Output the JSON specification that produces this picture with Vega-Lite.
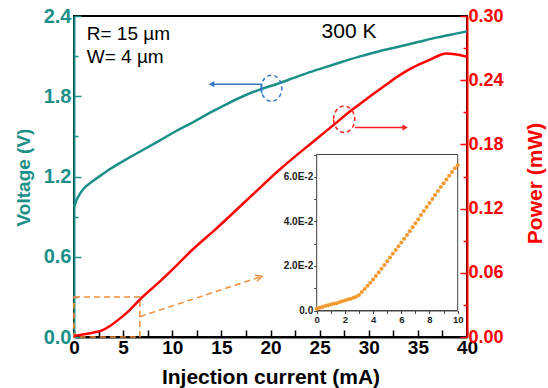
{
  "$schema": "https://vega.github.io/schema/vega-lite/v6.json",
  "width": 393,
  "height": 321,
  "autosize": {"type": "none"},
  "padding": {"left": 74, "top": 16, "right": 81, "bottom": 51},
  "background": "white",
  "config": {
    "view": {"stroke": "black", "strokeWidth": 2},
    "font": "Liberation Sans",
    "axis": {"grid": false, "zindex": 1, "labelFont": "Liberation Sans", "titleFont": "Liberation Sans", "labelFlush": false}
  },
  "datasets": {
    "voltage": [
      {"I": 0, "V": 0.97}, {"I": 0.3, "V": 1.03}, {"I": 0.6, "V": 1.07}, {"I": 1.0, "V": 1.11},
      {"I": 2.0, "V": 1.17}, {"I": 3.0, "V": 1.222}, {"I": 3.66, "V": 1.256}, {"I": 5.36, "V": 1.33},
      {"I": 7.05, "V": 1.40}, {"I": 8.75, "V": 1.47}, {"I": 10.4, "V": 1.54}, {"I": 12.1, "V": 1.605},
      {"I": 13.8, "V": 1.675}, {"I": 15.5, "V": 1.74}, {"I": 17.2, "V": 1.80}, {"I": 18.9, "V": 1.85},
      {"I": 20.6, "V": 1.89}, {"I": 22.3, "V": 1.935}, {"I": 24.0, "V": 1.98}, {"I": 25.7, "V": 2.02},
      {"I": 27.4, "V": 2.06}, {"I": 29.2, "V": 2.10}, {"I": 31.0, "V": 2.135}, {"I": 33.0, "V": 2.17},
      {"I": 35.0, "V": 2.205}, {"I": 37.0, "V": 2.24}, {"I": 39.0, "V": 2.27}, {"I": 40.0, "V": 2.285}
    ],
    "power": [
      {"I": 0, "P": 0.001}, {"I": 1.0, "P": 0.0025}, {"I": 2.0, "P": 0.0042}, {"I": 2.8, "P": 0.006},
      {"I": 3.66, "P": 0.0103}, {"I": 4.5, "P": 0.016}, {"I": 5.36, "P": 0.0225}, {"I": 6.7, "P": 0.035},
      {"I": 8.75, "P": 0.052}, {"I": 10.45, "P": 0.067}, {"I": 12.1, "P": 0.082}, {"I": 14.2, "P": 0.099},
      {"I": 17.6, "P": 0.128}, {"I": 21.0, "P": 0.157}, {"I": 24.4, "P": 0.183}, {"I": 26.0, "P": 0.195},
      {"I": 28.4, "P": 0.213}, {"I": 30.0, "P": 0.224}, {"I": 31.8, "P": 0.236}, {"I": 33.2, "P": 0.245},
      {"I": 34.5, "P": 0.252}, {"I": 36.2, "P": 0.259}, {"I": 37.9, "P": 0.265}, {"I": 38.9, "P": 0.264},
      {"I": 40.0, "P": 0.262}
    ],
    "inset": [
      {"I": 0.0, "P": 0.0008}, {"I": 0.2, "P": 0.0012}, {"I": 0.4, "P": 0.0016}, {"I": 0.6, "P": 0.0020},
      {"I": 0.8, "P": 0.0023}, {"I": 1.0, "P": 0.0027}, {"I": 1.2, "P": 0.0030}, {"I": 1.4, "P": 0.0033},
      {"I": 1.6, "P": 0.0037}, {"I": 1.8, "P": 0.0041}, {"I": 2.0, "P": 0.0045}, {"I": 2.2, "P": 0.0049},
      {"I": 2.4, "P": 0.0053}, {"I": 2.6, "P": 0.0057}, {"I": 2.8, "P": 0.0062}, {"I": 3.0, "P": 0.0070},
      {"I": 3.2, "P": 0.0083}, {"I": 3.4, "P": 0.0097}, {"I": 3.6, "P": 0.0111}, {"I": 3.8, "P": 0.0124},
      {"I": 4.0, "P": 0.0139}, {"I": 4.2, "P": 0.0155}, {"I": 4.4, "P": 0.0171}, {"I": 4.6, "P": 0.0187},
      {"I": 4.8, "P": 0.0204}, {"I": 5.0, "P": 0.0221}, {"I": 5.2, "P": 0.0238}, {"I": 5.4, "P": 0.0255},
      {"I": 5.6, "P": 0.0271}, {"I": 5.8, "P": 0.0288}, {"I": 6.0, "P": 0.0305}, {"I": 6.2, "P": 0.0322},
      {"I": 6.4, "P": 0.0339}, {"I": 6.6, "P": 0.0356}, {"I": 6.8, "P": 0.0374}, {"I": 7.0, "P": 0.0392},
      {"I": 7.2, "P": 0.0410}, {"I": 7.4, "P": 0.0428}, {"I": 7.6, "P": 0.0446}, {"I": 7.8, "P": 0.0464},
      {"I": 8.0, "P": 0.0482}, {"I": 8.2, "P": 0.0500}, {"I": 8.4, "P": 0.0518}, {"I": 8.6, "P": 0.0536},
      {"I": 8.8, "P": 0.0554}, {"I": 9.0, "P": 0.0571}, {"I": 9.2, "P": 0.0588}, {"I": 9.4, "P": 0.0605},
      {"I": 9.6, "P": 0.0622}, {"I": 9.8, "P": 0.0638}, {"I": 10.0, "P": 0.0652}
    ],
    "frame": [{"x": 0, "x2": 10, "y": 0, "y2": 0.07}],
    "orangeBox": [{"x": 0, "x2": 6.7, "y": 0, "y2": 0.0375}],
    "orangeArrow": [{"x": 6.7, "y": 0.019, "x2": 18.9, "y2": 0.056}],
    "orangeHead": [{"x": 18.9, "y": 0.056}],
    "blueArrow": [{"o": 1, "x": 14.0, "y": 1.89}, {"o": 2, "x": 19.1, "y": 1.89}, {"o": 3, "x": 19.1, "y": 1.82}],
    "blueHead": [{"x": 14.0, "y": 1.89}],
    "blueCircle": [{"x": 20.1, "y": 1.86}],
    "redCircle": [{"x": 27.5, "y": 0.2035}],
    "redArrow": [{"x": 28.6, "x2": 33.7, "y": 0.1957}],
    "redHead": [{"x": 33.7, "y": 0.1957}],
    "labels": [{"x": 1.3, "y": 2.265, "t": "R= 15 µm"}, {"x": 1.3, "y": 2.09, "t": "W= 4 µm"}],
    "temp": [{"x": 25.2, "y": 2.284, "t": "300 K"}]
  },
  "resolve": {
    "scale": {"x": "independent", "y": "independent"},
    "axis": {"x": "independent", "y": "independent"}
  },
  "layer": [
    {
      "data": {"name": "orangeBox"},
      "mark": {"type": "rect", "filled": false, "stroke": "#f28c38", "strokeWidth": 1.5, "strokeDash": [6, 4]},
      "encoding": {
        "x": {"field": "x", "type": "quantitative", "scale": {"domain": [0, 40], "nice": false}, "axis": null},
        "x2": {"field": "x2"},
        "y": {"field": "y", "type": "quantitative", "scale": {"domain": [0, 0.3], "nice": false}, "axis": null},
        "y2": {"field": "y2"}
      }
    },
    {
      "data": {"name": "orangeArrow"},
      "mark": {"type": "rule", "color": "#f28c38", "strokeWidth": 1.5, "strokeDash": [6, 4]},
      "encoding": {
        "x": {"field": "x", "type": "quantitative", "scale": {"domain": [0, 40], "nice": false}, "axis": null},
        "x2": {"field": "x2"},
        "y": {"field": "y", "type": "quantitative", "scale": {"domain": [0, 0.3], "nice": false}, "axis": null},
        "y2": {"field": "y2"}
      }
    },
    {
      "data": {"name": "orangeHead"},
      "mark": {"type": "point", "shape": "M -1 -0.8 L 0.6 0 L -1 0.8", "filled": false, "color": "#f28c38", "strokeWidth": 1.5, "size": 60, "angle": 341.6, "opacity": 1},
      "encoding": {
        "x": {"field": "x", "type": "quantitative", "scale": {"domain": [0, 40], "nice": false}, "axis": null},
        "y": {"field": "y", "type": "quantitative", "scale": {"domain": [0, 0.3], "nice": false}, "axis": null}
      }
    },
    {
      "data": {"name": "frame"},
      "mark": {"type": "rect", "fill": "white", "stroke": "#444444", "strokeWidth": 1},
      "encoding": {
        "x": {"field": "x", "type": "quantitative", "scale": {"domain": [0, 10], "nice": false, "range": [242.7, 383.7]}, "axis": null},
        "x2": {"field": "x2"},
        "y": {"field": "y", "type": "quantitative", "scale": {"domain": [0, 0.07], "nice": false, "range": [294.5, 138.5]}, "axis": null},
        "y2": {"field": "y2"}
      }
    },
    {
      "data": {"name": "inset"},
      "mark": {"type": "point", "filled": true, "color": "#f29a2e", "size": 16, "opacity": 1},
      "encoding": {
        "x": {"field": "I", "type": "quantitative", "scale": {"domain": [0, 10], "nice": false, "range": [242.7, 383.7]},
          "axis": {"orient": "bottom", "offset": -26.5, "title": null, "values": [0, 1, 2, 3, 4, 5, 6, 7, 8, 9, 10],
            "labelExpr": "datum.value % 2 == 0 ? datum.label : ''", "labelFontSize": 9.5, "labelFontWeight": "bold", "labelColor": "#222",
            "labelPadding": 1, "domainColor": "#444", "tickColor": "#444", "tickSize": 3}},
        "y": {"field": "P", "type": "quantitative", "scale": {"domain": [0, 0.07], "nice": false, "range": [294.5, 138.5]},
          "axis": {"orient": "left", "offset": -242.7, "title": null, "values": [0, 0.01, 0.02, 0.03, 0.04, 0.05, 0.06, 0.07],
            "labelExpr": "indexof([0, 0.02, 0.04, 0.06], datum.value) >= 0 ? (datum.value == 0 ? '0.0' : replace(format(datum.value, '.1e'), 'e', 'E')) : ''",
            "labelFontSize": 10, "labelFontWeight": "bold", "labelColor": "#222", "labelPadding": 1,
            "domainColor": "#444", "tickColor": "#444", "tickSize": 3}}
      }
    },
    {
      "data": {"name": "voltage"},
      "mark": {"type": "line", "color": "#1b9088", "strokeWidth": 2.5, "interpolate": "monotone"},
      "encoding": {
        "x": {"field": "I", "type": "quantitative", "scale": {"domain": [0, 40], "nice": false},
          "axis": {"orient": "bottom", "title": "Injection current (mA)", "values": [0, 2.5, 5, 7.5, 10, 12.5, 15, 17.5, 20, 22.5, 25, 27.5, 30, 32.5, 35, 37.5, 40],
            "labelExpr": "datum.value % 5 == 0 ? datum.label : ''", "labelFontSize": 19, "labelFontWeight": "bold", "labelColor": "black",
            "labelPadding": 8, "domainColor": "black", "domainWidth": 2, "tickColor": "black", "tickWidth": 1.5,
            "tickSize": -7,
            "titleFontSize": 21, "titleFontWeight": "bold", "titleColor": "black",
            "titleX": 196.5, "titleY": 40, "titleBaseline": "middle", "titleAlign": "center"}},
        "y": {"field": "V", "type": "quantitative", "scale": {"domain": [0, 2.4], "nice": false},
          "axis": {"orient": "left", "title": "Voltage (V)", "values": [0, 0.3, 0.6, 0.9, 1.2, 1.5, 1.8, 2.1, 2.4],
            "labelExpr": "indexof([0, 0.6, 1.2, 1.8, 2.4], datum.value) >= 0 ? format(datum.value, '.1f') : ''",
            "labelFontSize": 20, "labelFontWeight": "bold", "labelColor": "#1b9088", "labelPadding": 10,
            "domainColor": "#1b9088", "domainWidth": 2, "tickColor": "#1b9088", "tickWidth": 1.5,
            "tickSize": {"condition": {"test": "indexof([0, 0.6, 1.2, 1.8, 2.4], datum.value) >= 0", "value": -7}, "value": -4},
            "titleFontSize": 19, "titleFontWeight": "bold", "titleColor": "#1b9088",
            "titleX": -51, "titleY": 161, "titleAngle": 270, "titleBaseline": "middle", "titleAlign": "center"}}
      }
    },
    {
      "data": {"name": "power"},
      "mark": {"type": "line", "color": "#ff0000", "strokeWidth": 2.5, "interpolate": "monotone"},
      "encoding": {
        "x": {"field": "I", "type": "quantitative", "scale": {"domain": [0, 40], "nice": false}, "axis": null},
        "y": {"field": "P", "type": "quantitative", "scale": {"domain": [0, 0.3], "nice": false},
          "axis": {"orient": "right", "title": "Power (mW)", "values": [0, 0.03, 0.06, 0.09, 0.12, 0.15, 0.18, 0.21, 0.24, 0.27, 0.3],
            "labelExpr": "indexof([0, 0.06, 0.12, 0.18, 0.24, 0.3], datum.value) >= 0 ? format(datum.value, '.2f') : ''",
            "labelFontSize": 18, "labelFontWeight": "bold", "labelColor": "#ff0000", "labelPadding": 8,
            "domainColor": "#ff0000", "domainWidth": 2, "tickColor": "#ff0000", "tickWidth": 1.5,
            "tickSize": {"condition": {"test": "indexof([0, 0.06, 0.12, 0.18, 0.24, 0.3], datum.value) >= 0", "value": -7}, "value": -4},
            "titleFontSize": 21, "titleFontWeight": "bold", "titleColor": "#ff0000",
            "titleX": 68, "titleY": 167, "titleAngle": 270, "titleBaseline": "middle", "titleAlign": "center"}}
      }
    },
    {
      "data": {"name": "blueArrow"},
      "mark": {"type": "line", "color": "#3a78c3", "strokeWidth": 1.5},
      "encoding": {
        "x": {"field": "x", "type": "quantitative", "scale": {"domain": [0, 40], "nice": false}, "axis": null},
        "y": {"field": "y", "type": "quantitative", "scale": {"domain": [0, 2.4], "nice": false}, "axis": null},
        "order": {"field": "o", "type": "quantitative"}
      }
    },
    {
      "data": {"name": "blueHead"},
      "mark": {"type": "point", "shape": "triangle-left", "filled": true, "color": "#3a78c3", "size": 40, "opacity": 1},
      "encoding": {
        "x": {"field": "x", "type": "quantitative", "scale": {"domain": [0, 40], "nice": false}, "axis": null},
        "y": {"field": "y", "type": "quantitative", "scale": {"domain": [0, 2.4], "nice": false}, "axis": null}
      }
    },
    {
      "data": {"name": "blueCircle"},
      "mark": {"type": "point", "shape": "M -0.8 0 A 0.8 1 0 1 1 0.8 0 A 0.8 1 0 1 1 -0.8 0 Z", "filled": false, "color": "#3a78c3", "strokeWidth": 1.5, "strokeDash": [4, 3], "size": 676, "opacity": 1},
      "encoding": {
        "x": {"field": "x", "type": "quantitative", "scale": {"domain": [0, 40], "nice": false}, "axis": null},
        "y": {"field": "y", "type": "quantitative", "scale": {"domain": [0, 2.4], "nice": false}, "axis": null}
      }
    },
    {
      "data": {"name": "redCircle"},
      "mark": {"type": "point", "shape": "M -0.8 0 A 0.8 1 0 1 1 0.8 0 A 0.8 1 0 1 1 -0.8 0 Z", "filled": false, "color": "#ff2020", "strokeWidth": 1.5, "strokeDash": [4, 3], "size": 700, "opacity": 1},
      "encoding": {
        "x": {"field": "x", "type": "quantitative", "scale": {"domain": [0, 40], "nice": false}, "axis": null},
        "y": {"field": "y", "type": "quantitative", "scale": {"domain": [0, 0.3], "nice": false}, "axis": null}
      }
    },
    {
      "data": {"name": "redArrow"},
      "mark": {"type": "rule", "color": "#ff2020", "strokeWidth": 1.5},
      "encoding": {
        "x": {"field": "x", "type": "quantitative", "scale": {"domain": [0, 40], "nice": false}, "axis": null},
        "x2": {"field": "x2"},
        "y": {"field": "y", "type": "quantitative", "scale": {"domain": [0, 0.3], "nice": false}, "axis": null}
      }
    },
    {
      "data": {"name": "redHead"},
      "mark": {"type": "point", "shape": "triangle-right", "filled": true, "color": "#ff2020", "size": 40, "opacity": 1},
      "encoding": {
        "x": {"field": "x", "type": "quantitative", "scale": {"domain": [0, 40], "nice": false}, "axis": null},
        "y": {"field": "y", "type": "quantitative", "scale": {"domain": [0, 0.3], "nice": false}, "axis": null}
      }
    },
    {
      "data": {"name": "labels"},
      "mark": {"type": "text", "align": "left", "baseline": "middle", "fontSize": 19, "color": "black", "font": "Liberation Sans"},
      "encoding": {
        "x": {"field": "x", "type": "quantitative", "scale": {"domain": [0, 40], "nice": false}, "axis": null},
        "y": {"field": "y", "type": "quantitative", "scale": {"domain": [0, 2.4], "nice": false}, "axis": null},
        "text": {"field": "t"}
      }
    },
    {
      "data": {"name": "temp"},
      "mark": {"type": "text", "align": "left", "baseline": "middle", "fontSize": 21, "color": "black", "font": "Liberation Sans"},
      "encoding": {
        "x": {"field": "x", "type": "quantitative", "scale": {"domain": [0, 40], "nice": false}, "axis": null},
        "y": {"field": "y", "type": "quantitative", "scale": {"domain": [0, 2.4], "nice": false}, "axis": null},
        "text": {"field": "t"}
      }
    }
  ]
}
